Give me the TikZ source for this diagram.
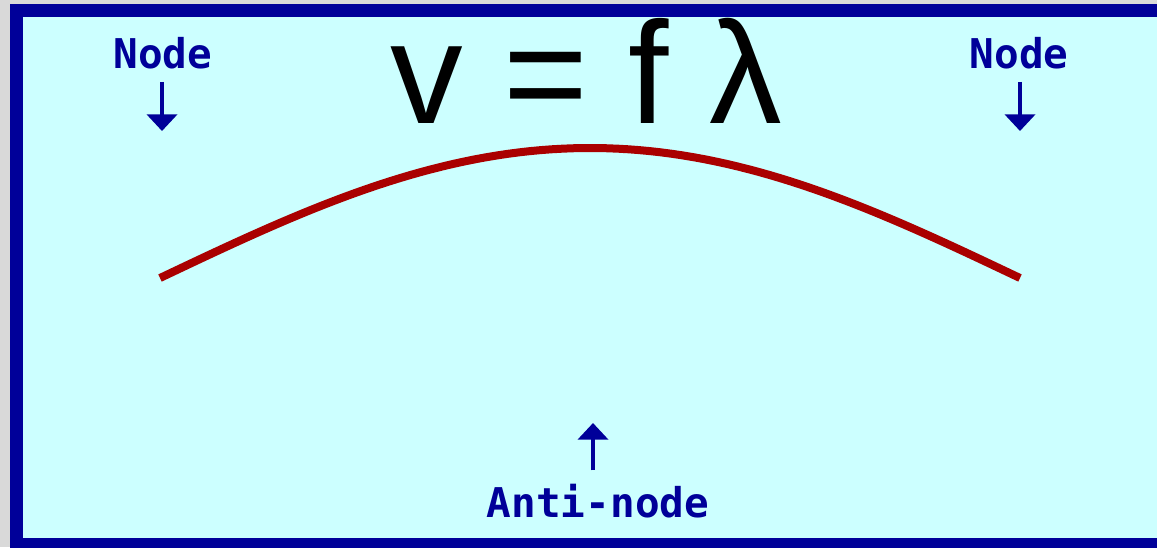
\documentclass[tikz,border=0pt]{standalone}
\usepackage{fontspec}
\setmainfont{Liberation Sans}
\newfontfamily\pixfont{DejaVu Sans Mono}
\newfontfamily\eqfont{Liberation Sans}
\definecolor{wvblue}{RGB}{0,0,153}
\definecolor{wvcyan}{RGB}{204,255,255}
\definecolor{wvred}{RGB}{170,0,0}
\definecolor{wvgray}{RGB}{217,217,217}
\usetikzlibrary{arrows.meta,positioning}

\begin{document}
\begin{tikzpicture}[x=0.03cm, y=-0.03cm,
  lbl/.style={text=wvblue, inner sep=0pt, font=\pixfont\bfseries\fontsize{35}{35}\selectfont},
  ptr/.style={draw=wvblue, line width=0.12cm, -{Triangle[width=0.9cm, length=0.5cm]}, shorten <=0.39cm}
]
  %% Frame and background
  \useasboundingbox (0,0) rectangle (1157,547);
  \fill[wvgray] (0,0) rectangle (1157,547);
  \fill[wvblue] (10,4) rectangle (1170,560);
  \fill[wvcyan] (23,17) rectangle (1170,538);

  %% Formula
  \node[anchor=base west, inner sep=0pt, font=\eqfont\fontsize{124}{124}\selectfont] (eqn) at (390,123) {v = f λ};

  %% Standing wave (half loop)
  \draw[wvred, line width=0.24cm, domain=160:1020, samples=80] plot (\x, {278-130*sin((\x-160)*0.20930)});

  %% Node labels (top)
  \node[lbl, anchor=base] (nodeL) at (163,68) {Node};
  \coordinate (tipL) at (162,131);
  \draw[ptr] (nodeL.south -| tipL) -- (tipL);

  \node[lbl, anchor=base] (nodeR) at (1019,68) {Node};
  \coordinate (tipR) at (1020,131);
  \draw[ptr] (nodeR.south -| tipR) -- (tipR);

  %% Anti-node label (bottom)
  \node[lbl, anchor=base] (anti) at (598,517) {Anti-node};
  \coordinate (tipA) at (593,423);
  \draw[ptr] (anti.north -| tipA) -- (tipA);
\end{tikzpicture}
\end{document}
